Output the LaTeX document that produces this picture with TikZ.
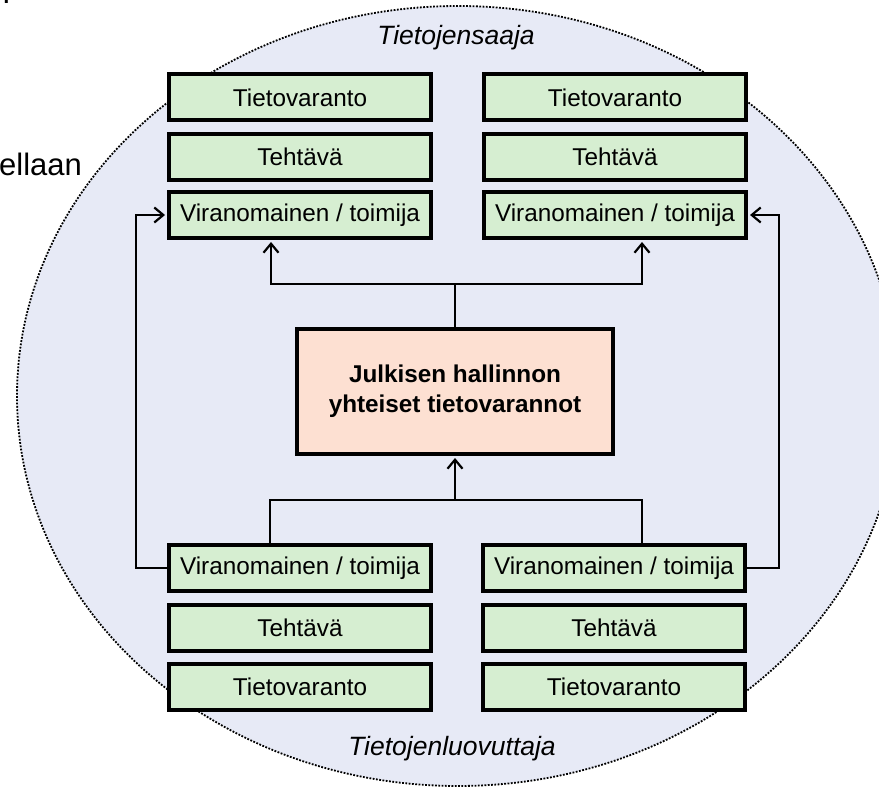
\documentclass[tikz,border=0pt]{standalone}
\usepackage{fontspec}
\setmainfont{Liberation Sans}
\usetikzlibrary{arrows.meta,calc}
\definecolor{circfill}{HTML}{E7EAF6}
\definecolor{boxgreen}{HTML}{D6EED1}
\definecolor{boxsalmon}{HTML}{FDE0D2}
\tikzset{
  greenbox/.style={draw=black, line width=4pt, fill=boxgreen, minimum width=262pt, minimum height=46pt, inner sep=0pt, font=\fontsize{24.3}{29}\selectfont},
  centerbox/.style={draw=black, line width=4pt, fill=boxsalmon, minimum width=316pt, minimum height=125pt, inner sep=0pt, align=center, font=\fontsize{24.3}{30}\selectfont\bfseries},
  conn/.style={draw=black, line width=2.2pt},
  arr/.style={conn, -{Straight Barb[length=9pt,width=15pt,line width=2.2pt]}, shorten >=2pt},
  rolelabel/.style={anchor=base, font=\fontsize{26.5}{30}\selectfont\itshape},
}
\begin{document}
\begin{tikzpicture}[x=1pt,y=-1pt]
\useasboundingbox (0,0) rectangle (879,789);
\fill[white] (0,0) rectangle (879,789);
\begin{scope}
  \clip (0,0) rectangle (879,789);
  \draw[fill=circfill, line width=1.8pt, dash pattern=on 1.8pt off 1.5pt] (458,396) ellipse [x radius=441pt, y radius=390pt];
\end{scope}
% cropped stray text
\node[anchor=base west, inner sep=0pt, font=\fontsize{31}{36}\selectfont] (dot) at (2,4) {.};
\node[anchor=base west, inner sep=0pt, font=\fontsize{31}{36}\selectfont] (ell) at (-1,176) {ellaan};
% labels
\node[rolelabel] (saaja) at (456,45) {Tietojensaaja};
\node[rolelabel] (luov) at (452,755) {Tietojenluovuttaja};
% top-left column
\node[greenbox] (T1) at (300,97.5) {Tietovaranto};
\node[greenbox] (H1) at (300,157) {Tehtävä};
\node[greenbox] (V1) at (300,215) {Viranomainen / toimija};
% top-right column
\node[greenbox] (T2) at (615,97.5) {Tietovaranto};
\node[greenbox] (H2) at (615,157) {Tehtävä};
\node[greenbox] (V2) at (615,215) {Viranomainen / toimija};
% bottom-left column
\node[greenbox] (B1) at (300,568) {Viranomainen / toimija};
\node[greenbox] (BH1) at (300,627.5) {Tehtävä};
\node[greenbox] (BT1) at (300,686.5) {Tietovaranto};
% bottom-right column
\node[greenbox] (B2) at (614,568) {Viranomainen / toimija};
\node[greenbox] (BH2) at (614,627.5) {Tehtävä};
\node[greenbox] (BT2) at (614,686.5) {Tietovaranto};
% center
\node[centerbox] (C) at (455,391.5) {Julkisen hallinnon\\yhteiset tietovarannot};
% connectors
\coordinate (ja) at (455,284);
\coordinate (jb) at (455,500);
\draw[conn] (C.north) -- (ja);
\draw[arr] (ja) -| ([xshift=-29pt]V1.south);
\draw[arr] (ja) -| ([xshift=27pt]V2.south);
\draw[conn] ([xshift=-30pt]B1.north) |- (jb) -| ([xshift=28pt]B2.north);
\draw[arr] (jb) -- (C.south);
\draw[arr] (B1.west) -- ++(-31,0) |- (V1.west);
\draw[arr] (B2.east) -- ++(32,0) |- (V2.east);
\end{tikzpicture}
\end{document}
